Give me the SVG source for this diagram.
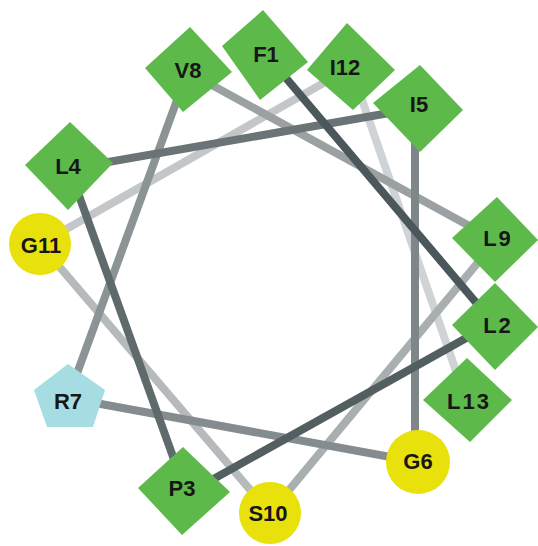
<svg xmlns="http://www.w3.org/2000/svg" width="538" height="546" viewBox="0 0 538 546">
  <style>
    .bond { fill: none; stroke-width: 8; stroke-linecap: butt; }
    .hydro { fill: #5cb94a; }
    .gly { fill: #e9e10c; }
    .basic { fill: #a6dde3; }
    .lbl { font-family: "Liberation Sans", Arial, sans-serif; font-weight: bold; font-size: 22px; fill: #161616; text-anchor: middle; }
    .sp { letter-spacing: 2px; }
  </style>
  <rect width="538" height="546" fill="#ffffff"/>

  <!-- backbone links, last residue pair first so earlier links sit on top -->
  <g id="connectors">
    <line class="bond" x1="351" y1="68" x2="466" y2="400" stroke="#d0d3d5"/>
    <line class="bond" x1="40" y1="244" x2="350" y2="68" stroke="#c3c7c9"/>
    <line class="bond" x1="270" y1="513" x2="40" y2="244" stroke="#b6babd"/>
    <line class="bond" x1="495" y1="242" x2="270" y2="513" stroke="#a9aeb0"/>
    <line class="bond" x1="188" y1="72" x2="495" y2="240" stroke="#9ba1a3"/>
    <line class="bond" x1="68" y1="398" x2="188" y2="70" stroke="#8c9395"/>
    <line class="bond" x1="418" y1="462" x2="68" y2="398" stroke="#858c8f"/>
    <line class="bond" x1="415" y1="106" x2="415" y2="462" stroke="#7f8689"/>
    <line class="bond" x1="68" y1="169" x2="418" y2="108" stroke="#6a7476"/>
    <line class="bond" x1="185" y1="490" x2="68" y2="165" stroke="#5f6a6c"/>
    <line class="bond" x1="495" y1="322" x2="183" y2="496" stroke="#535e61"/>
    <line class="bond" x1="264" y1="52" x2="495" y2="325" stroke="#4b575a"/>
  </g>

  <g id="V8">
    <polygon class="hydro" points="190,27 232,72 183,112 145,68"/>
    <text class="lbl" x="188" y="78">V8</text>
  </g>
  <g id="I12">
    <polygon class="hydro" points="347,23 395,70 353,110 307,70"/>
    <text class="lbl" x="345" y="75">I12</text>
  </g>
  <g id="F1">
    <polygon class="hydro" points="263,10 308,62 260,100 222,46"/>
    <text class="lbl" x="266" y="62">F1</text>
  </g>
  <g id="I5">
    <polygon class="hydro" points="420,65 463,110 420,152 373,103"/>
    <text class="lbl" x="419" y="112">I5</text>
  </g>
  <g id="L4">
    <polygon class="hydro" points="70,122 113,163 68,210 25,165"/>
    <text class="lbl" x="68" y="174">L4</text>
  </g>
  <g id="G11">
    <circle class="gly" cx="40" cy="244" r="31"/>
    <text class="lbl" x="41" y="253">G11</text>
  </g>
  <g id="L9">
    <polygon class="hydro" points="497,197 538,240 495,282 452,238"/>
    <text class="lbl sp" x="498" y="246">L9</text>
  </g>
  <g id="L2">
    <polygon class="hydro" points="495,283 538,327 495,370 452,325"/>
    <text class="lbl sp" x="498" y="333">L2</text>
  </g>
  <g id="L13">
    <polygon class="hydro" points="467,358 512,400 470,442 423,400"/>
    <text class="lbl sp" x="469" y="409">L13</text>
  </g>
  <g id="R7">
    <polygon class="basic" points="68,364 105,390 93,427 47,427 34,390"/>
    <text class="lbl" x="68" y="409">R7</text>
  </g>
  <g id="G6">
    <circle class="gly" cx="418" cy="462" r="32"/>
    <text class="lbl" x="418" y="469">G6</text>
  </g>
  <g id="P3">
    <polygon class="hydro" points="183,447 230,492 182,535 138,488"/>
    <text class="lbl" x="182" y="496">P3</text>
  </g>
  <g id="S10">
    <circle class="gly" cx="270" cy="513" r="31"/>
    <text class="lbl" x="268" y="521">S10</text>
  </g>
</svg>
